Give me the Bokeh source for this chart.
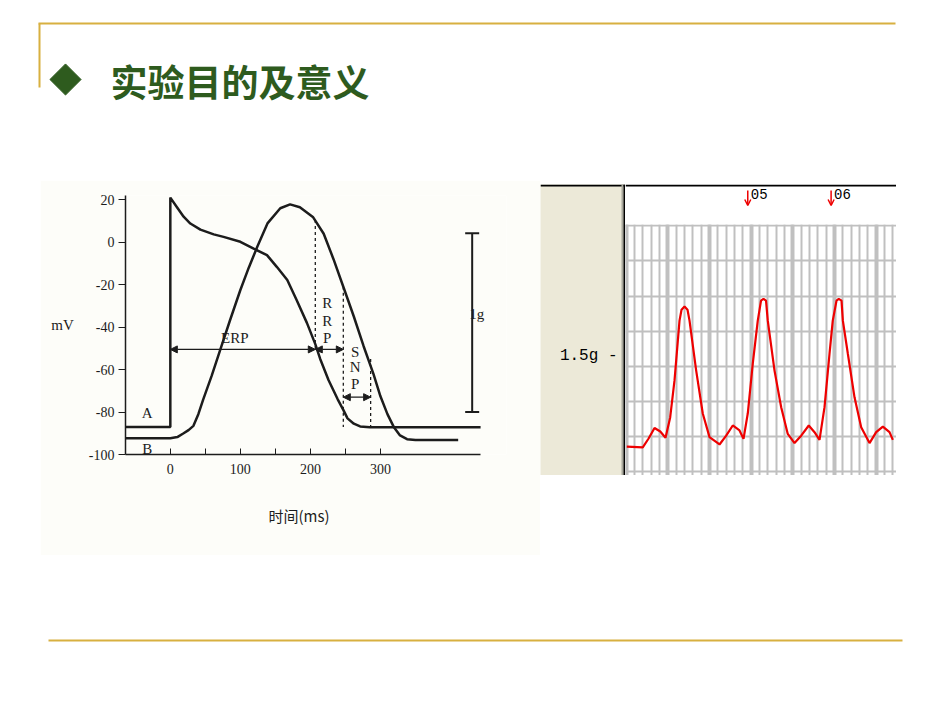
from bokeh.plotting import figure
from bokeh.layouts import row, column, Spacer
from bokeh.models import (Range1d, FixedTicker, Grid, Arrow, NormalHead, OpenHead,
                          Whisker, TeeHead, ColumnDataSource, Span, Label, Title)
from bokeh.core.properties import value
from bokeh.embed import file_html
from bokeh.resources import INLINE
import math

# ---------------- data: left chart (action potential A, contraction B) ----------------
a_t = [-64, 0, 0, 9.5, 19, 28.6, 43, 62, 76, 100, 119, 138, 152, 167, 180, 195, 207, 214,
       226, 239, 247, 253, 262, 271, 285, 443]
a_v = [-87, -87, 21, 16.5, 12, 8.8, 5.9, 3.7, 2.5, 0.2, -3, -6.1, -11.6, -17.8, -27, -38,
       -48, -55, -65, -74, -79, -83, -85.5, -86.8, -87.2, -87.2]
b_t = [-64, 0, 10, 19, 26, 33, 40, 47, 59, 71, 85, 100, 112, 124, 139, 157, 171, 185, 204,
       219, 233, 247, 262, 276, 290, 300, 310, 319, 328, 338, 350, 411]
b_v = [-92.3, -92.3, -91.8, -90, -88.5, -86.5, -81, -74, -63, -51, -37, -22.5, -12, -2.3, 9,
       16, 17.8, 16.5, 11.7, 4, -8, -21, -35, -49, -62, -72.6, -81, -87, -91, -92.8, -93.2, -93.2]
x_ticks = [0, 100, 200, 300]
x_minor = [50, 150, 250]
y_ticks = [20, 0, -20, -40, -60, -80, -100]
x_axis_span = (-64, 443)
x_title = "时间(ms)"
y_title = "mV"

# interval arrows (ERP, RRP, SNP)
int_start = [0, 207, 247]
int_end = [207, 247, 286]
int_level = [-50.5, -50.5, -73]
# dashed boundaries
dash_t = [207, 247, 286]
dash_top = [10.5, -21, -55]
dash_bot = [-50.5, -87, -87]
# text labels
lab_text = ["ERP", "R", "R", "P", "S", "N", "P", "A", "B"]
lab_t = [92, 224, 224, 224, 264, 264, 264, -33, -33]
lab_v = [-45, -28.6, -37, -45, -51.5, -59, -67, -80.5, -97.5]
# 1 g scale bar
bar_t = [431]
bar_low = [-80]
bar_high = [4.2]

# ---------------- data: right chart (force trace) ----------------
force_x = [0.08, 2.0, 2.7, 3.41, 4.1, 4.73, 5.29, 5.81, 6.41, 6.65, 7.01, 7.37, 7.61, 8.41, 9.20,
           10.01, 11.21, 12.01, 12.80, 13.61, 14.09, 14.60, 15.20, 15.80, 16.19, 16.49, 16.79,
           17.00, 17.81, 18.61, 19.40, 20.21, 21.01, 21.92, 22.61, 23.21, 23.81, 24.41, 24.80,
           25.25, 25.52, 25.85, 26.01, 26.61, 27.41, 28.21, 29.21, 30.01, 30.81, 31.61, 32.01]
force_y = [0.72, 0.70, 0.95, 1.25, 1.15, 0.97, 1.55, 2.60, 4.30, 4.61, 4.70, 4.61, 4.30, 2.88,
           1.66, 0.99, 0.78, 1.03, 1.32, 1.18, 0.94, 1.66, 3.08, 4.30, 4.87, 4.92, 4.87, 4.30,
           2.88, 1.84, 1.08, 0.82, 1.03, 1.32, 1.13, 0.91, 1.84, 3.36, 4.30, 4.87, 4.92, 4.87,
           4.30, 3.36, 2.12, 1.27, 0.82, 1.13, 1.29, 1.13, 0.91]
event_x = [14.6, 24.6]
event_label = ["05", "06"]
grid_minor = list(range(0, 33))
grid_major = list(range(0, 33, 5))
grid_h = list(range(0, 8))

CREAM = "#fdfdf9"
GOLD = "#d8b040"
GREEN = "#2e5b1e"
BEIGE = "#ece9d8"
RED = "#ee0000"
INK = "#1c1c1c"


def deco_fig(w, h):
    f = figure(width=w, height=h, x_range=Range1d(0, w), y_range=Range1d(h, 0),
               toolbar_location=None, output_backend="svg", min_border=0,
               x_axis_location=None, y_axis_location=None, outline_line_color=None,
               background_fill_color="white", border_fill_color="white")
    f.grid.visible = False
    return f


# ---------------- header ----------------
hdr = deco_fig(950, 180)
hdr.segment(x0=[38, 39], y0=[23, 23], x1=[895, 39], y1=[23, 87], line_color=GOLD, line_width=2)
hdr.scatter(x=[65], y=[79], marker="square", angle=math.pi / 4, size=22,
            fill_color=GREEN, line_color=GREEN)
hdr.text(x=[110], y=[80], text=["实验目的及意义"], text_font=value("Noto Sans CJK SC"),
         text_font_size="37px", text_font_style="bold", text_color=GREEN,
         text_baseline="middle", text_align="left")

# ---------------- footer ----------------
ftr = deco_fig(950, 158)
ftr.segment(x0=[48], y0=[85], x1=[902], y1=[85], line_color=GOLD, line_width=2)

# ---------------- left chart ----------------
left = figure(width=500, height=375, x_range=Range1d(-64, 480), y_range=Range1d(-100, 22),
              toolbar_location=None, output_backend="svg",
              min_border_left=85, min_border_right=34, min_border_top=15, min_border_bottom=100,
              background_fill_color=CREAM, border_fill_color=CREAM, outline_line_color=None)
left.grid.visible = False
xa = left.xaxis[0]
xa.bounds = x_axis_span
xa.ticker = FixedTicker(ticks=x_ticks, minor_ticks=x_minor)
xa.major_tick_in = 6
xa.major_tick_out = 0
xa.minor_tick_in = 6
xa.minor_tick_out = 0
xa.major_label_standoff = 9
xa.major_label_text_font = "Liberation Serif"
xa.major_label_text_font_size = "14px"
xa.major_label_text_color = INK
xa.axis_line_color = INK
xa.major_tick_line_color = INK
xa.minor_tick_line_color = INK
xa.axis_line_width = 1.5

ya = left.yaxis[0]
ya.ticker = FixedTicker(ticks=y_ticks)
ya.major_label_overrides = {t: str(t) for t in y_ticks}
ya.major_tick_in = 0
ya.major_tick_out = 7
ya.major_label_standoff = 4
ya.major_label_text_font = "Liberation Serif"
ya.major_label_text_font_size = "14px"
ya.major_label_text_color = INK
ya.axis_line_color = INK
ya.major_tick_line_color = INK
ya.axis_line_width = 1.5
ya.axis_label = y_title
ya.axis_label_orientation = "horizontal"
ya.axis_label_text_font = "Liberation Serif"
ya.axis_label_text_font_style = "normal"
ya.axis_label_text_font_size = "15px"
ya.axis_label_text_color = INK
ya.axis_label_standoff = 12

left.add_layout(Title(text=x_title, align="left", offset=143, standoff=56,
                      vertical_align="top", text_font="Noto Sans CJK SC",
                      text_font_style="normal", text_font_size="15px", text_color=INK),
                "below")

left.line(a_t, a_v, line_color=INK, line_width=2.5)
left.line(b_t, b_v, line_color=INK, line_width=2.5)
left.segment(x0=dash_t, y0=dash_top, x1=dash_t, y1=dash_bot, line_color=INK,
             line_width=1.3, line_dash="3 3")
arr_src = ColumnDataSource(dict(x0=int_start, x1=int_end, y=int_level))
left.add_layout(Arrow(source=arr_src, x_start="x0", y_start="y", x_end="x1", y_end="y",
                      line_color=INK, line_width=1.3,
                      start=NormalHead(size=7, fill_color=INK, line_color=INK),
                      end=NormalHead(size=7, fill_color=INK, line_color=INK)))
left.text(x=lab_t, y=lab_v, text=lab_text, text_font=value("Liberation Serif"),
          text_font_size="15px", text_color=INK, text_align="center", text_baseline="middle")
bar_src = ColumnDataSource(dict(base=bar_t, lower=bar_low, upper=bar_high))
left.add_layout(Whisker(source=bar_src, base="base", lower="lower", upper="upper",
                        dimension="height", line_color=INK, line_width=2,
                        upper_head=TeeHead(size=14, line_color=INK, line_width=2),
                        lower_head=TeeHead(size=14, line_color=INK, line_width=2)))
left.text(x=bar_t, y=[-34], text=["1g"], text_font=value("Liberation Serif"),
          text_font_size="15px", text_color=INK, text_align="left", text_baseline="middle",
          x_offset=-3)

# ---------------- right chart ----------------
plot = figure(width=271, height=251, x_range=Range1d(-0.072, 32.448),
              y_range=Range1d(-0.102, 7.034), toolbar_location=None, output_backend="svg",
              min_border=0, x_axis_location=None, y_axis_location=None,
              outline_line_color=None, background_fill_color="white", border_fill_color="white")
plot.grid.visible = False
plot.add_layout(Grid(dimension=0, ticker=FixedTicker(ticks=grid_minor),
                     grid_line_color="#c0c0c0", grid_line_width=2))
plot.add_layout(Grid(dimension=0, ticker=FixedTicker(ticks=grid_major),
                     grid_line_color="#c0c0c0", grid_line_width=4))
plot.add_layout(Grid(dimension=1, ticker=FixedTicker(ticks=grid_h),
                     grid_line_color="#c0c0c0", grid_line_width=2))
plot.line(force_x, force_y, line_color=RED, line_width=2.2)

marker = figure(width=271, height=40, x_range=plot.x_range, y_range=Range1d(40, 0),
                toolbar_location=None, output_backend="svg", min_border=0,
                x_axis_location=None, y_axis_location=None, outline_line_color=None,
                background_fill_color="white", border_fill_color="white")
marker.grid.visible = False
marker.add_layout(Span(location=1, dimension="width", line_color="black", line_width=2))
ev_src = ColumnDataSource(dict(x=event_x, y0=[6] * len(event_x), y1=[21] * len(event_x),
                               ty=[9] * len(event_x), label=event_label))
marker.add_layout(Arrow(source=ev_src, x_start="x", y_start="y0", x_end="x", y_end="y1",
                        line_color=RED, line_width=1.5,
                        end=OpenHead(size=6, line_color=RED, line_width=1.5)))
marker.text(x="x", y="ty", text="label", source=ev_src, x_offset=3,
            text_font=value("Liberation Mono"), text_font_size="14px", text_color="black",
            text_baseline="middle", text_align="left")

beige = figure(width=85, height=291, x_range=Range1d(0, 85), y_range=Range1d(291, 0),
               toolbar_location=None, output_backend="svg", min_border=0,
               x_axis_location=None, y_axis_location=None, outline_line_color=None,
               background_fill_color=BEIGE, border_fill_color=BEIGE)
beige.grid.visible = False
beige.add_layout(Span(location=1, dimension="width", line_color="black", line_width=2))
beige.add_layout(Span(location=82, dimension="height", line_color="#a8a79c", line_width=2))
beige.add_layout(Span(location=84, dimension="height", line_color="black", line_width=2))
beige.add_layout(Label(x=77, y=171, text="1.5g -", text_align="right", text_baseline="middle",
                       text_font="Liberation Mono", text_font_size="16px", text_color="black"))

right_group = column(Spacer(width=356, height=4),
                     row(beige, column(marker, plot)),
                     Spacer(width=356, height=80))

middle = row(Spacer(width=40, height=375), left, right_group, Spacer(width=54, height=375))
page = column(hdr, middle, ftr)

open("out.html", "w").write(file_html(page, INLINE))
